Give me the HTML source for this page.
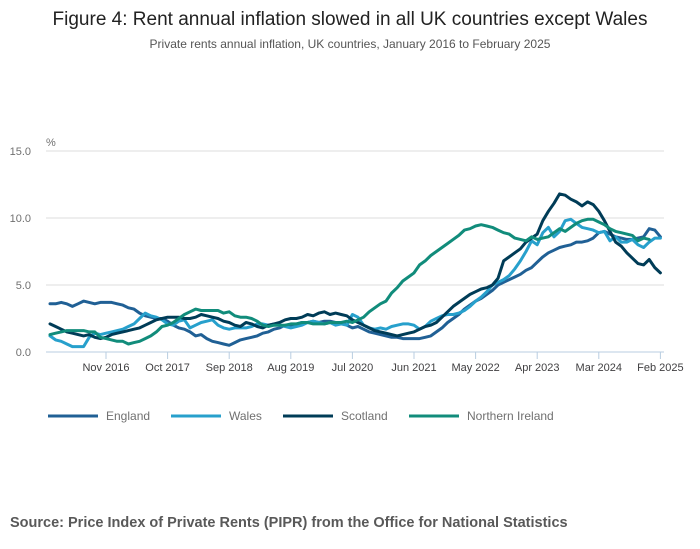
<!DOCTYPE html>
<html><head><meta charset="utf-8"><style>
body{margin:0;background:#fff;font-family:"Liberation Sans","DejaVu Sans",sans-serif;}
#wrap{position:relative;width:700px;height:549px;overflow:hidden;}
</style></head><body>
<div id="wrap">
<svg id="chart" width="700" height="549">
<text x="350" y="25" text-anchor="middle" font-size="19" fill="#222">Figure 4: Rent annual inflation slowed in all UK countries except Wales</text>
<text x="350" y="48" text-anchor="middle" font-size="12" fill="#555">Private rents annual inflation, UK countries, January 2016 to February 2025</text>
<text x="46" y="146" font-size="11" fill="#707070">%</text>
<g id="grid"></g><g id="series"></g><g id="legend"></g>
<text x="10" y="527" font-size="14.5" font-weight="bold" fill="#595959">Source: Price Index of Private Rents (PIPR) from the Office for National Statistics</text>
</svg>
</div>
<script>
const yTicks=[0,5,10,15];
const yTickLabels=["0.0","5.0","10.0","15.0"];
const xTickIdx=[10,21,32,43,54,65,76,87,98,109];
const xTickLabels=["Nov 2016","Oct 2017","Sep 2018","Aug 2019","Jul 2020","Jun 2021","May 2022","Apr 2023","Mar 2024","Feb 2025"];
const seriesNames=["England","Wales","Scotland","Northern Ireland"];
const england=[3.6,3.6,3.7,3.6,3.4,3.6,3.8,3.7,3.6,3.7,3.7,3.7,3.6,3.5,3.3,3.2,2.9,2.7,2.6,2.5,2.5,2.3,2.0,1.8,1.7,1.5,1.2,1.3,1.0,0.8,0.7,0.6,0.5,0.7,0.9,1.0,1.1,1.2,1.4,1.5,1.7,1.8,2.0,2.0,2.1,2.2,2.2,2.3,2.2,2.3,2.3,2.2,2.2,2.0,1.8,1.9,1.7,1.5,1.4,1.3,1.2,1.1,1.1,1.0,1.0,1.0,1.0,1.1,1.2,1.5,1.8,2.2,2.5,2.8,3.2,3.5,3.8,4.0,4.3,4.6,5.0,5.2,5.4,5.6,5.8,6.1,6.3,6.7,7.1,7.4,7.6,7.8,7.9,8.0,8.2,8.2,8.3,8.5,8.9,9.0,8.8,8.6,8.5,8.4,8.4,8.5,8.6,9.2,9.1,8.6];
const wales=[1.2,0.9,0.8,0.6,0.4,0.4,0.4,1.1,1.4,1.3,1.4,1.5,1.6,1.7,1.9,2.1,2.5,2.9,2.7,2.6,2.4,2.1,2.0,2.3,2.4,1.8,2.0,2.2,2.3,2.4,2.0,1.8,1.7,1.8,1.8,1.8,1.9,2.1,2.1,2.0,2.1,2.0,1.9,1.8,1.9,2.0,2.2,2.3,2.2,2.1,2.2,2.0,2.1,2.0,2.8,2.6,2.0,1.8,1.7,1.8,1.7,1.9,2.0,2.1,2.1,2.0,1.7,1.9,2.3,2.5,2.7,2.8,2.8,2.9,3.1,3.4,3.8,4.1,4.5,5.0,5.2,5.4,5.7,6.2,6.8,7.5,8.3,8.0,8.9,9.3,8.6,9.0,9.8,9.9,9.6,9.3,9.2,9.1,8.9,9.0,8.3,8.6,8.2,8.2,8.4,8.0,7.8,8.2,8.5,8.5];
const scotland=[2.1,1.9,1.7,1.5,1.4,1.3,1.2,1.3,1.1,1.0,1.1,1.3,1.4,1.5,1.6,1.7,1.8,2.0,2.2,2.4,2.5,2.6,2.6,2.6,2.5,2.5,2.6,2.8,2.7,2.6,2.5,2.3,2.2,2.0,1.9,2.2,2.1,1.9,1.8,2.0,2.1,2.2,2.4,2.5,2.5,2.6,2.8,2.7,2.9,3.0,2.8,2.9,2.8,2.7,2.4,2.2,2.0,1.8,1.6,1.5,1.4,1.3,1.2,1.3,1.4,1.5,1.7,1.9,2.0,2.2,2.6,3.0,3.4,3.7,4.0,4.3,4.5,4.7,4.8,5.0,5.5,6.8,7.1,7.4,7.7,8.2,8.5,8.8,9.8,10.5,11.1,11.8,11.7,11.4,11.2,10.9,11.2,11.0,10.5,9.8,9.0,8.2,7.9,7.4,7.0,6.6,6.5,6.9,6.3,5.9];
const nireland=[1.3,1.4,1.5,1.6,1.6,1.6,1.6,1.5,1.5,1.1,1.0,0.9,0.8,0.8,0.6,0.7,0.8,1.0,1.2,1.5,1.9,2.0,2.2,2.5,2.8,3.0,3.2,3.1,3.1,3.1,3.1,2.9,3.0,2.7,2.6,2.6,2.5,2.3,2.0,1.9,2.0,2.0,2.0,2.1,2.1,2.2,2.2,2.1,2.1,2.1,2.2,2.2,2.2,2.3,2.2,2.4,2.6,3.0,3.3,3.6,3.8,4.4,4.8,5.3,5.6,5.9,6.5,6.8,7.2,7.5,7.8,8.1,8.4,8.7,9.1,9.2,9.4,9.5,9.4,9.3,9.1,8.9,8.8,8.5,8.4,8.3,8.6,8.4,8.5,8.6,8.9,9.2,9.0,9.3,9.6,9.8,9.9,9.9,9.7,9.5,9.2,9.0,8.9,8.8,8.7,8.3,8.5,8.4,null,null];
const colors=["#206095","#27a0cc","#003c57","#118c7b"];
const NS="http://www.w3.org/2000/svg";
const x0=50,dx=5.6,yBase=352,yScale=13.4;
const xs=i=>x0+i*dx, ys=v=>yBase-v*yScale;
function mk(tag,attrs,parent){const e=document.createElementNS(NS,tag);for(const k in attrs)e.setAttribute(k,attrs[k]);parent.appendChild(e);return e;}
const grid=document.getElementById('grid');
yTicks.forEach((t,k)=>{
  if(t>0){const l=mk('line',{x1:46,x2:664,y1:ys(t),y2:ys(t),stroke:'#dcdcdc','stroke-width':1},grid);
  
  }
  const tx=mk('text',{x:31,y:ys(t)+4,'text-anchor':'end','font-size':11,fill:'#707070'},grid);
  tx.textContent=yTickLabels[k];
  
  
});
const ax=mk('line',{x1:46,x2:664,y1:yBase,y2:yBase,stroke:'#b8cde0','stroke-width':1},grid);


xTickIdx.forEach((idx,k)=>{
  const tk=mk('line',{x1:xs(idx),x2:xs(idx),y1:yBase,y2:yBase+7,stroke:'#b8cde0','stroke-width':1},grid);
  
  
  const tx=mk('text',{x:xs(idx),y:yBase+19,'text-anchor':'middle','font-size':11,fill:'#414042'},grid);
  tx.textContent=xTickLabels[k];
  
  
});
const sg=document.getElementById('series');
[england,wales,scotland,nireland].forEach((arr,s)=>{
  let d='';let started=false;
  arr.forEach((v,i)=>{if(v===null){started=false;return;}d+=(started?'L':'M')+xs(i).toFixed(1)+','+ys(v).toFixed(1);started=true;});
  const p=mk('path',{d:d,fill:'none',stroke:colors[s],'stroke-width':3,'stroke-linejoin':'round','stroke-linecap':'round'},sg);
  
  
});
const lg=document.getElementById('legend');
const lgX=[48,171,283,409];
seriesNames.forEach((n,s)=>{
  const g=mk('g',{},lg);
  
  
  mk('line',{x1:lgX[s],x2:lgX[s]+50,y1:416,y2:416,stroke:colors[s],'stroke-width':3},g);
  const t=mk('text',{x:lgX[s]+58,y:420,'font-size':12,fill:'#707070'},g);
  t.textContent=n;
});
</script>
</body></html>
